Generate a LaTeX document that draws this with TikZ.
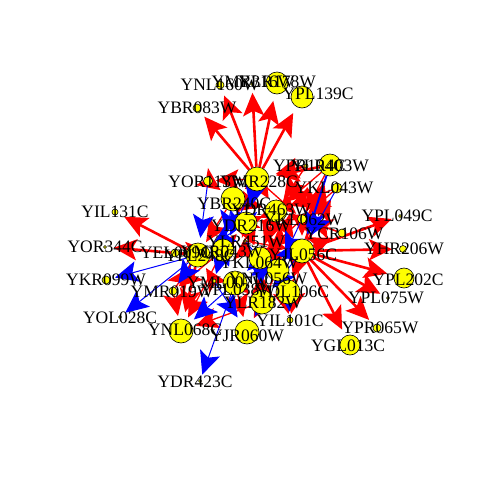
\documentclass[tikz,border=0pt]{standalone}
\usepackage{fontspec}
\setmainfont{Liberation Serif}
\usepackage{tikz}
\usetikzlibrary{arrows.meta,backgrounds}
\definecolor{genered}{RGB}{255,0,0}
\definecolor{geneblue}{RGB}{0,0,255}
\definecolor{geneyellow}{RGB}{255,255,0}
\tikzset{
  gene/.style={circle,draw=black,fill=geneyellow,line width=0.6pt,inner sep=0pt},
  lbl/.style={font=\fontsize{17.5}{20}\selectfont,inner sep=0pt},
  act/.style={-{Stealth[length=23pt,width=21pt,inset=5pt]},draw=genered,line width=2.6pt,shorten >=7pt},
  acthin/.style={act,line width=1.3pt,shorten >=3pt},
  rep/.style={-{Stealth[length=23pt,width=21pt,inset=5pt]},draw=geneblue,line width=1pt,shorten >=5pt},
  repthick/.style={rep,line width=2pt}
}

\begin{document}
\begin{tikzpicture}[x=1pt,y=-1pt]
  \useasboundingbox (0,0) rectangle (480,480);

  % genes
  \foreach \p/\x/\y/\s in {YBR083W/197/108/8,YNL160W/220/85/8,YMR316W/252/84/3,
      YLR178W/277/83/22,YPL139C/302/97/22,YOR113W/208/181/9,YMR228C/257/179/24,
      YPR104C/306/166/4,YLR403W/330/165/22,YKL043W/337/188/10,YBR240C/233/199/24,
      YDR216W/246/223/22,YDR463W/276/211/22,YKL062W/302/219/9,YCR106W/342/233/8,
      YJL056C/302/251/24,YPL049C/400/216/3,YHR206W/403/249/7,YPL202C/404/278/20,
      YPL075W/388/298/3,YPR065W/377/328/8,YGL013C/350/345/20,YIL101C/290/320/6,
      YDL106C/288/292/24,YLR182W/262/302/24,YNL056W/278/270/22,YKL064W/260/258/22,
      YPL038W/235/283/24,YML007W/214/281/4,YMR043W/223/250/22,YPL248C/198/255/24,
      YLR451W/245/241/3,YEL009C/175/253/8,YMR019W/173/291/8,YNL068C/181/331/24,
      YJR060W/247/332/24,YDR423C/200/381/3,YOL028C/120/317/3,YKR099W/106/280/8,
      YOR344C/105/247/3,YIL131C/115/212/6}{
    \node[gene,minimum size=\s pt] (\p) at (\x,\y) {};
  }

  \begin{scope}[on background layer]
    \foreach \a/\b in {YMR228C/YBR083W,YMR228C/YNL160W,YMR228C/YMR316W,
        YMR228C/YLR178W,YMR228C/YPL139C,YLR403W/YMR228C,YPR104C/YMR228C,
        YJL056C/YPL049C,YJL056C/YHR206W,YJL056C/YPL202C,YJL056C/YPL075W,
        YJL056C/YPR065W,YJL056C/YGL013C,YJL056C/YCR106W,YJL056C/YKL043W,
        YJL056C/YLR403W,YPL248C/YIL131C,YPL248C/YOR344C,YPL248C/YNL068C}{
      \draw[act] (\a) -- (\b);
    }
    \foreach \a/\b in {YMR228C/YBR240C,YMR228C/YDR463W,YMR228C/YKL062W,
        YDR463W/YJL056C,YKL062W/YJL056C,YDR216W/YKL064W,YBR240C/YPL248C,
        YMR043W/YMR019W,YKL064W/YDL106C,YNL056W/YJR060W,YPL038W/YJR060W,
        YLR182W/YNL068C,YKL043W/YDR463W,YCR106W/YDR463W,YJL056C/YNL056W,
        YLR451W/YDR216W,YOR113W/YBR240C,YMR228C/YOR113W,YJL056C/YIL101C,
        YPL248C/YMR043W,YMR043W/YDR216W,YDR216W/YBR240C,YBR240C/YDR463W,
        YDR463W/YKL064W,YKL064W/YJL056C,YNL056W/YDL106C,YDL106C/YLR182W,
        YPL038W/YLR182W,YLR182W/YKL064W,YMR019W/YPL248C,YEL009C/YMR043W,
        YML007W/YPL248C,YLR451W/YJL056C,YDR216W/YDR463W,YKL062W/YDR216W,
        YCR106W/YKL062W,YKL043W/YKL062W,YPR104C/YDR463W,YLR403W/YDR463W,
        YLR403W/YKL062W,YJL056C/YDL106C,YNL056W/YIL101C,YMR019W/YNL068C,
        YMR043W/YNL068C,YDR463W/YDR216W,YKL062W/YKL064W,YBR240C/YKL064W}{
      \draw[acthin] (\a) -- (\b);
    }
    \foreach \a/\b in {YPL248C/YKR099W,YPL248C/YOL028C,YPL038W/YDR423C,
        YPL038W/YNL068C,YMR228C/YDR216W,YDR216W/YPL248C,YMR043W/YPL038W,
        YKL064W/YLR182W,YDL106C/YIL101C,YLR451W/YDL106C,YJL056C/YKL064W,
        YBR240C/YMR043W,YKL062W/YNL056W,YML007W/YJR060W,YJL056C/YLR182W,
        YOR113W/YPL248C,YMR228C/YMR043W,YDR216W/YLR451W,YJL056C/YPL038W,
        YKL043W/YJL056C,YPL248C/YMR019W,YMR043W/YML007W,YLR182W/YJR060W,
        YKL064W/YPL038W}{
      \draw[rep] (\a) -- (\b);
    }
    \draw[repthick] (YLR403W) -- (YJL056C);
  \end{scope}

  % gene names
  \foreach \p/\x/\y in {YBR083W/197/108,YNL160W/220/85,YMR316W/253/82,
      YLR178W/277/82,YPL139C/318/94,YOR113W/208/182,YMR228C/259/182,
      YPR104C/309/166,YLR403W/330/166,YKL043W/334/188,YBR240C/234/204,
      YDR216W/251/226,YDR463W/271/210,YKL062W/303/220,YCR106W/344/234,
      YJL056C/303/255,YPL049C/397/216,YHR206W/404/249,YPL202C/408/280,
      YPL075W/386/298,YPR065W/380/328,YGL013C/348/346,YIL101C/290/321,
      YDL106C/292/292,YLR182W/263/303,YNL056W/268/279,YKL064W/259/263,
      YPL038W/238/290,YML007W/228/283,YMR043W/222/252,YPL248C/200/256,
      YLR451W/246/242,YEL009C/176/253,YMR019W/172/292,YNL068C/185/330,
      YJR060W/247/336,YDR423C/195/382,YOL028C/120/318,YKR099W/106/280,
      YOR344C/105/247,YIL131C/115/212}{
    \node[lbl] (l\p) at (\x,\y) {\p};
  }
\end{tikzpicture}
\end{document}
